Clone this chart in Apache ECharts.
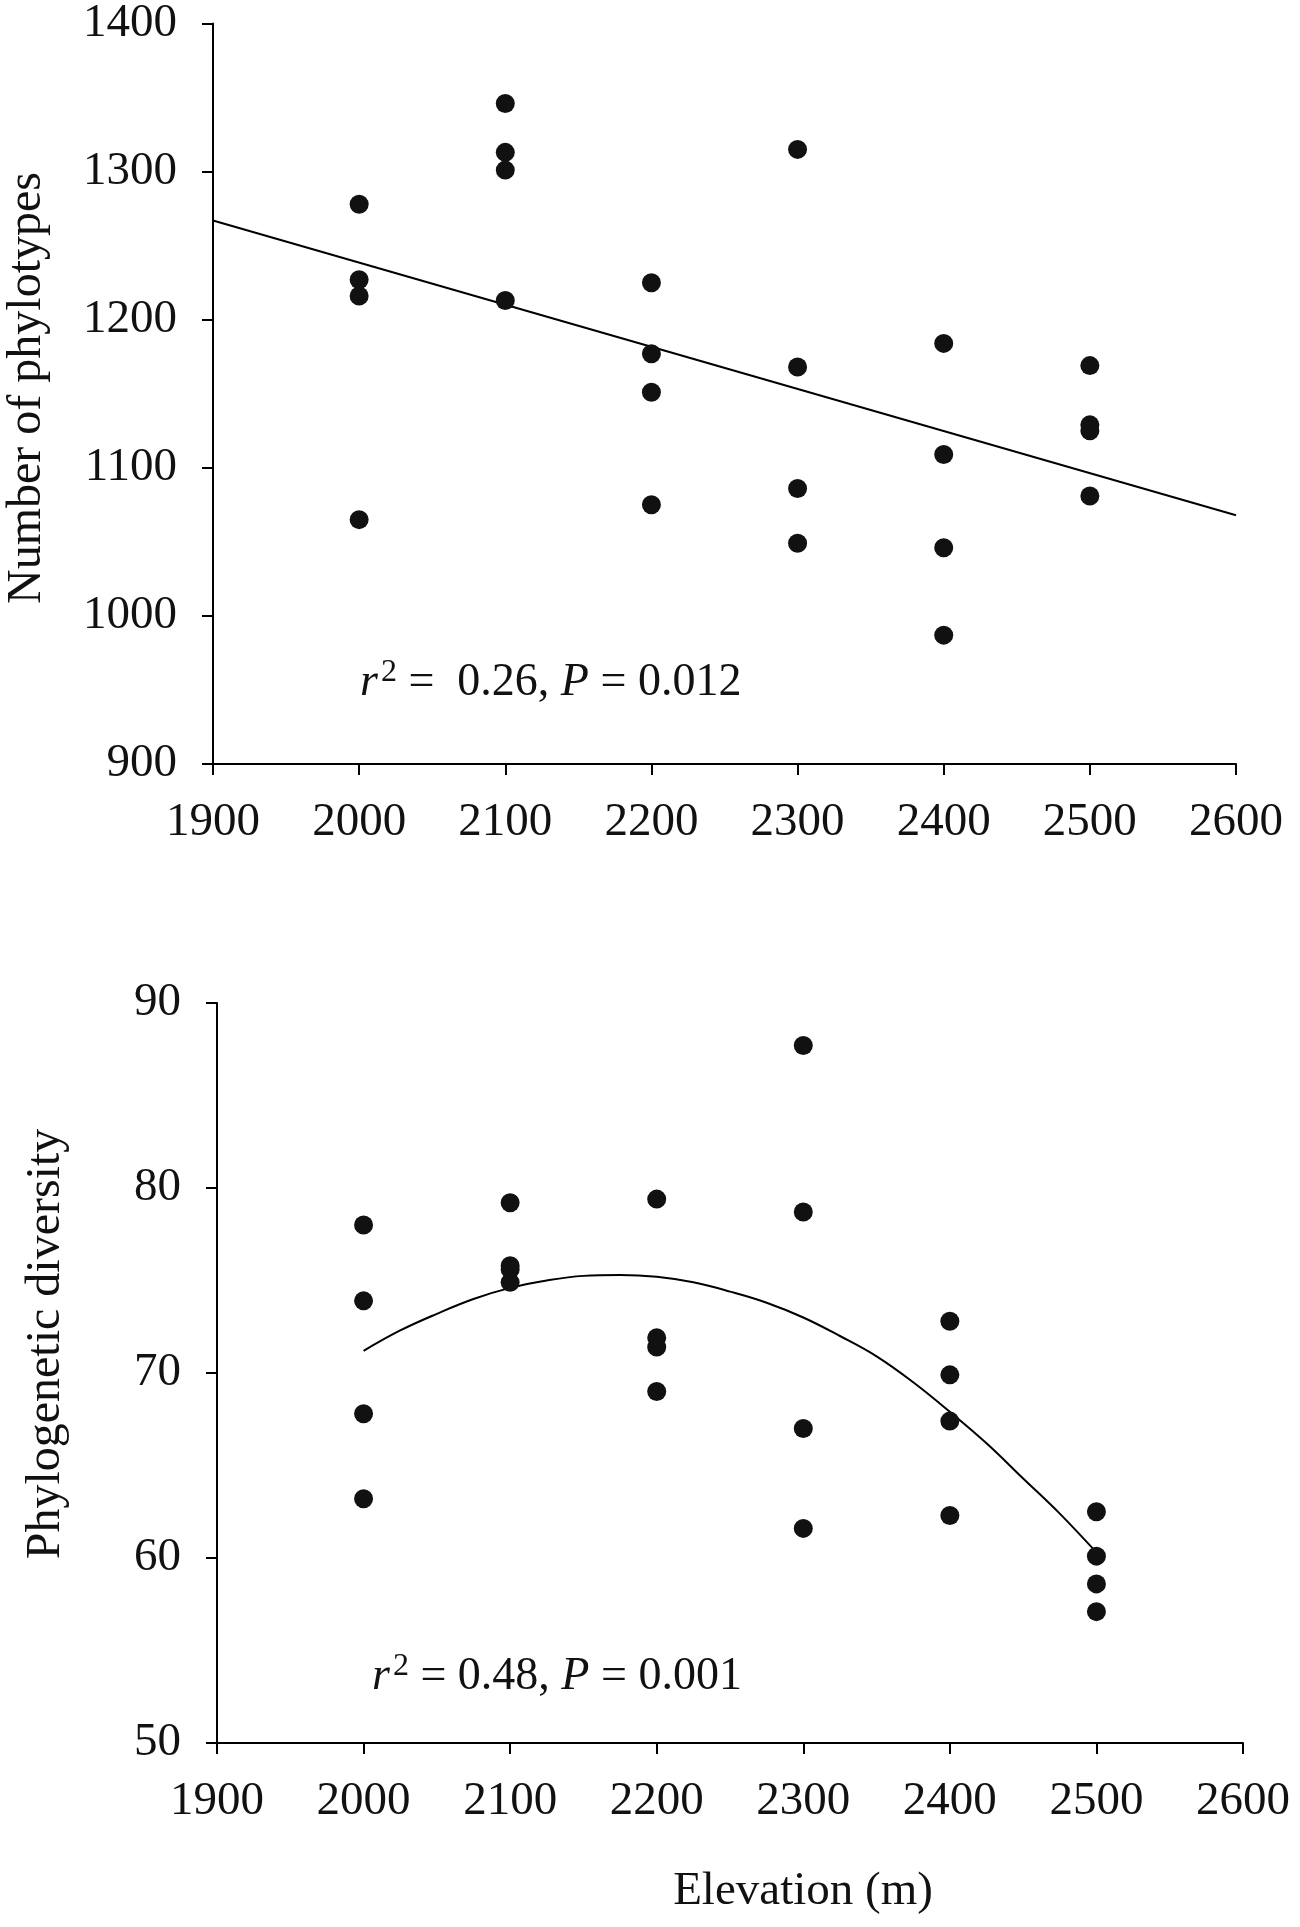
<!DOCTYPE html>
<html>
<head>
<meta charset="utf-8">
<script src="https://cdn.jsdelivr.net/npm/echarts@6/dist/echarts.min.js"></script>
<style>
  html, body { margin: 0; padding: 0; background: #fff; }
  #main { width: 1300px; height: 1927px; }
</style>
</head>
<body>
<div id="main"></div>
<script>
var FONT = '"Liberation Serif", "Times New Roman", serif';

// top panel: number of phylotypes
var elevTop = [2000, 2000, 2000, 2000, 2100, 2100, 2100, 2100, 2200, 2200, 2200, 2200,
               2300, 2300, 2300, 2300, 2400, 2400, 2400, 2400, 2500, 2500, 2500, 2500];
var phylotypes = [1278, 1227, 1216, 1065, 1346, 1313, 1301, 1213, 1225, 1177, 1151, 1075,
                  1315, 1168, 1086, 1049, 1184, 1109, 1046, 987, 1169, 1129, 1125, 1081];
var fitTopX = [1900, 2600];
var fitTopY = [1267, 1068];

// bottom panel: phylogenetic diversity
var elevBottom = [2000, 2000, 2000, 2000, 2100, 2100, 2100, 2100, 2200, 2200, 2200, 2200,
                  2300, 2300, 2300, 2300, 2400, 2400, 2400, 2400, 2500, 2500, 2500, 2500];
var pd = [78.0, 73.9, 67.8, 63.2, 79.2, 75.8, 75.6, 74.9, 79.4, 71.9, 71.4, 69.0,
          87.7, 78.7, 67.0, 61.6, 72.8, 69.9, 67.4, 62.3, 62.5, 60.1, 58.6, 57.1];
// fitted curve
var curveX = [2000, 2025, 2050, 2075, 2100, 2125, 2150, 2175, 2200, 2225, 2250,
              2275, 2300, 2325, 2350, 2375, 2400, 2425, 2450, 2475, 2500];
var curveY = [71.2, 72.3, 73.2, 74.0, 74.6, 75.0, 75.25, 75.3, 75.2, 74.9, 74.4,
              73.8, 73.0, 72.0, 70.9, 69.5, 67.9, 66.2, 64.3, 62.4, 60.3];

// axis ranges / tick steps
var xRange = [1900, 2600, 100];
var yTopRange = [900, 1400, 100];
var yBottomRange = [50, 90, 10];

function pairs(xs, ys) {
  var out = [];
  for (var i = 0; i < xs.length; i++) out.push([xs[i], ys[i]]);
  return out;
}
function plain(v) { return String(v); }

var lineBlack = { color: '#000', width: 2 };
var tickStyle = { show: true, inside: false, length: 11, lineStyle: lineBlack };

function xAxis(gridIndex) {
  return {
    type: 'value', gridIndex: gridIndex,
    min: xRange[0], max: xRange[1], interval: xRange[2],
    axisLine: { show: true, lineStyle: lineBlack },
    axisTick: tickStyle,
    splitLine: { show: false },
    axisLabel: { color: '#111', fontFamily: FONT, fontSize: 47, margin: 35, formatter: plain }
  };
}
function yAxis(gridIndex, r) {
  return {
    type: 'value', gridIndex: gridIndex,
    min: r[0], max: r[1], interval: r[2],
    axisLine: { show: true, lineStyle: lineBlack },
    axisTick: tickStyle,
    splitLine: { show: false },
    axisLabel: { color: '#111', fontFamily: FONT, fontSize: 47, margin: 36, formatter: plain }
  };
}

// r² = ..., P = ... built from pieces so the 2 can sit raised
var ctx = document.createElement('canvas').getContext('2d');
function textW(font, s) { ctx.font = font; return ctx.measureText(s).width; }

function statLine(x, baseline, rest1, rest2) {
  var it = 'italic 46px ' + FONT, rm = '46px ' + FONT, sm = '32px ' + FONT;
  var parts = [
    { t: 'r', f: it, dy: 0 },
    { t: '2', f: sm, dy: -17 },
    { t: rest1, f: rm, dy: 0 },
    { t: 'P', f: it, dy: 0 },
    { t: rest2, f: rm, dy: 0 }
  ];
  var out = [], cx = x;
  parts.forEach(function (p, i) {
    out.push({
      type: 'text', x: cx + (i === 1 ? 3 : 0), y: baseline + p.dy,
      style: { text: p.t, font: p.f, fill: '#111', textAlign: 'left', textVerticalAlign: 'bottom' }
    });
    cx += textW(p.f, p.t) + (i === 1 ? 3 : 0);
  });
  return out;
}

var chart = echarts.init(document.getElementById('main'), null, { renderer: 'canvas' });

var graphics = [
  {
    type: 'text', x: 27, y: 388, rotation: Math.PI / 2,
    style: { text: 'Number of phylotypes', fill: '#111', font: '48px ' + FONT,
             textAlign: 'center', textVerticalAlign: 'middle' }
  },
  {
    type: 'text', x: 46, y: 1344, rotation: Math.PI / 2,
    style: { text: 'Phylogenetic diversity', fill: '#111', font: '48px ' + FONT,
             textAlign: 'center', textVerticalAlign: 'middle' }
  },
  {
    type: 'text', x: 803, y: 1892,
    style: { text: 'Elevation (m)', fill: '#111', font: '47px ' + FONT,
             textAlign: 'center', textVerticalAlign: 'middle' }
  }
].concat(statLine(360, 706, ' =  0.26, ', ' = 0.012'))
 .concat(statLine(372, 1700, ' = 0.48, ', ' = 0.001'));

var option = {
  backgroundColor: '#fff',
  animation: false,
  grid: [
    { left: 213, top: 23, width: 1023, height: 741 },
    { left: 217, top: 1003, width: 1026, height: 740 }
  ],
  xAxis: [xAxis(0), xAxis(1)],
  yAxis: [yAxis(0, yTopRange), yAxis(1, yBottomRange)],
  series: [
    {
      type: 'line', xAxisIndex: 0, yAxisIndex: 0,
      data: pairs(fitTopX, fitTopY), symbol: 'none',
      lineStyle: lineBlack, z: 2
    },
    {
      type: 'scatter', xAxisIndex: 0, yAxisIndex: 0,
      data: pairs(elevTop, phylotypes), symbol: 'circle', symbolSize: 19,
      itemStyle: { color: '#111', opacity: 1 }, z: 3
    },
    {
      type: 'line', xAxisIndex: 1, yAxisIndex: 1,
      data: pairs(curveX, curveY), symbol: 'none', smooth: 0.4,
      lineStyle: lineBlack, z: 2
    },
    {
      type: 'scatter', xAxisIndex: 1, yAxisIndex: 1,
      data: pairs(elevBottom, pd), symbol: 'circle', symbolSize: 19,
      itemStyle: { color: '#111', opacity: 1 }, z: 3
    }
  ],
  graphic: graphics
};

chart.setOption(option);
</script>
</body>
</html>
